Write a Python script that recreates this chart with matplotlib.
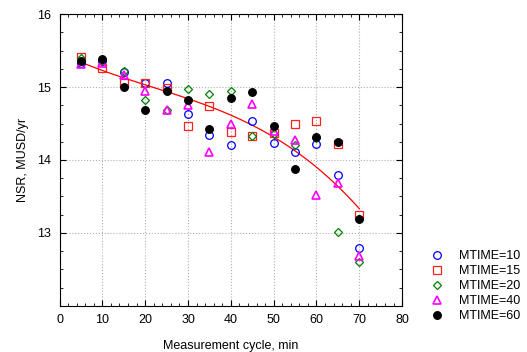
import numpy as np
import matplotlib
matplotlib.use("Agg")
import matplotlib.pyplot as plt
from matplotlib.ticker import MultipleLocator

plt.rcParams['font.family'] = ['Liberation Sans', 'DejaVu Sans']

cycle = [5, 10, 15, 20, 25, 30, 35, 40, 45, 50, 55, 60, 65, 70]
nsr_10 = [15.33, 15.36, 15.20, 15.06, 15.05, 14.63, 14.34, 14.21, 14.54, 14.23, 14.11, 14.22, 13.79, 12.80]
nsr_15 = [15.41, 15.26, 15.05, 15.06, 14.98, 14.46, 14.74, 14.39, 14.33, 14.37, 14.49, 14.53, 14.22, 13.24]
nsr_20 = [15.40, 15.37, 15.22, 14.82, 14.68, 14.97, 14.90, 14.94, 14.33, 14.36, 14.21, 14.30, 13.01, 12.60]
nsr_40 = [15.31, 15.33, 15.17, 14.95, 14.68, 14.76, 14.11, 14.50, 14.77, 14.40, 14.27, 13.52, 13.69, 12.69]
nsr_60 = [15.36, 15.38, 15.00, 14.69, 14.94, 14.82, 14.42, 14.85, 14.93, 14.46, 13.87, 14.31, 14.24, 13.19]

# fitted trend curve
fit_x = [5, 10, 20, 30, 40, 50, 60, 65, 70]
fit_y = [15.33, 15.23, 15.06, 14.83, 14.59, 14.31, 13.91, 13.68, 13.30]

labels = ['MTIME=10', 'MTIME=15', 'MTIME=20', 'MTIME=40', 'MTIME=60']

fig = plt.figure(figsize=(5.27, 3.52), dpi=100)
ax = fig.add_axes([0.113, 0.131, 0.650, 0.829])

styles = [
    dict(marker='o', mfc='none', mec='#0000ff', ms=5.5, mew=0.9),
    dict(marker='s', mfc='none', mec='#ff2020', ms=5.5, mew=0.9),
    dict(marker='D', mfc='none', mec='#008000', ms=4.0, mew=0.9),
    dict(marker='^', mfc='none', mec='#ff00ff', ms=6.0, mew=1.2),
    dict(marker='o', mfc='black', mec='black', ms=5.5, mew=0.9),
]
series = [nsr_10, nsr_15, nsr_20, nsr_40, nsr_60]
handles = []
for s, st, lab in zip(series, styles, labels):
    h, = ax.plot(cycle, s, linestyle='none', label=lab, **st)
    handles.append(h)

coef = np.polyfit(fit_x, fit_y, 3)
xf = np.linspace(fit_x[0], fit_x[-1], 120)
ax.plot(xf, np.polyval(coef, xf), color='#ff0000', lw=0.9, zorder=1.5)

ax.set_xlim(0, 80)
ax.set_ylim(12, 16)
ax.xaxis.set_major_locator(MultipleLocator(10))
ax.xaxis.set_minor_locator(MultipleLocator(2))
ax.set_yticks([13, 14, 15, 16])
ax.yaxis.set_minor_locator(MultipleLocator(0.25))
ax.tick_params(which='both', direction='in', top=True, right=True, labelsize=9)
ax.tick_params(which='major', length=4, pad=6)
ax.tick_params(which='minor', length=2)
ax.grid(True, which='major', linestyle=':', color='#b0b0b0', lw=0.8)
ax.set_axisbelow(True)
for sp in ax.spines.values():
    sp.set_linewidth(0.8)

ax.set_xlabel('Measurement cycle, min', fontsize=9, labelpad=10)
ax.set_ylabel('NSR, MUSD/yr', fontsize=9, labelpad=6)

fig.legend(handles=handles, labels=labels, loc='upper left',
           bbox_to_anchor=(0.818, 0.29), frameon=False, fontsize=9,
           handlelength=1.0, handletextpad=1.2, labelspacing=0.25,
           borderaxespad=0, borderpad=0)

fig.savefig('out.png', dpi=100)
